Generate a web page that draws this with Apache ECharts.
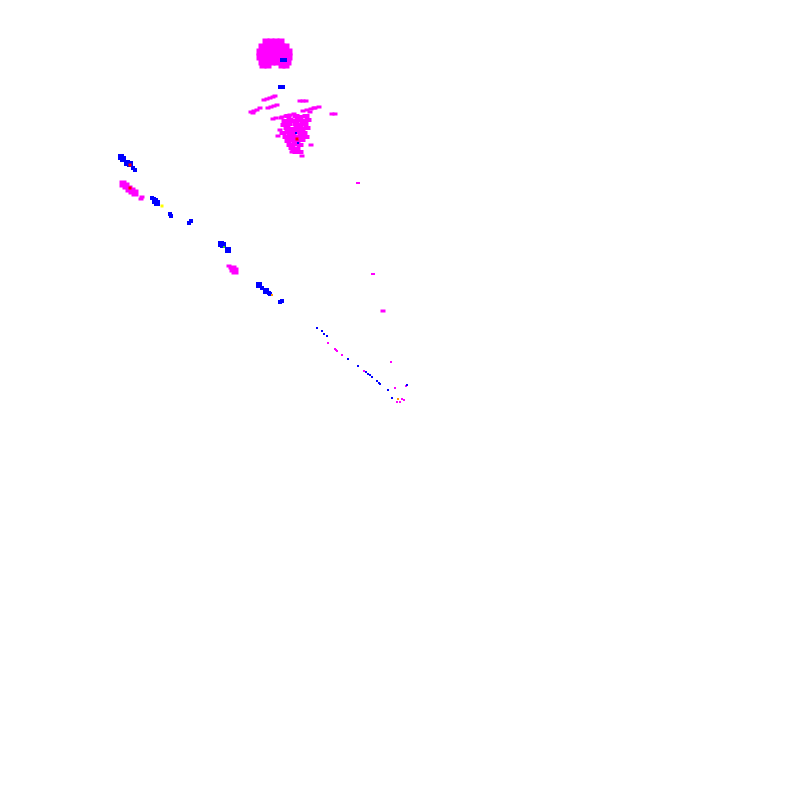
<!DOCTYPE html>
<html><head><meta charset="utf-8">
<script src="https://cdn.jsdelivr.net/npm/echarts@6/dist/echarts.min.js"></script>
<style>html,body{margin:0;padding:0;background:#fff}#c{width:800px;height:800px}</style>
</head><body><div id="c"></div>
<script>
// Point values (x, y in the chart's data units)
const magentaBlob = [
  [266,42],[271,42],[276,42],[281,42],
  [262,47],[267,47],[272,47],[277,47],[282,47],[286,47],
  [260,52],[265,52],[270,52],[275,52],[280,52],[285,52],[289,52],
  [260,57],[265,57],[270,57],[275,57],[280,57],[285,57],[289,57],
  [262,62],[267,62],[272,62],[277,62],[284,62],[288,62],
  [263,65],[268,65],[282,65],[286,65],
  [123,184],[126,186],[129,189],[132,191],[135,193],
  [233,269],[235,271]
];
const magentaCluster = [
  [288,116],[296,116],[300,117],[306,116],
  [285,121],[290,120],[294,121],[298,120],[303,121],[308,120],
  [284,125],[289,124],[296,124],[300,125],[305,124],
  [287,128],[292,129],[297,128],[302,129],[307,128],
  [283,133],[288,132],[293,133],[298,132],[304,133],
  [286,137],[290,136],[295,137],[301,136],[306,137],
  [288,141],[292,140],[297,141],[302,140],
  [290,145],[295,144],[300,145],
  [292,148],[297,149],[296,152],[300,152]
];
const magentaDash = [
  [264,100],[267,99],[270,98],[273,97],[275,96],
  [251,112],[254,111],[257,110],[260,108],[253,113],
  [268,108],[271,107],[274,106],[277,105],
  [300,101],[303,101],[306,101],
  [303,111],[307,110],[311,109],[315,108],[319,107],
  [332,114],[335,114],
  [273,119],[276,118],
  [282,117],[286,116],[290,115],[294,114],
  [281,118],[280,130],[278,136],[310,112],[314,108],[311,145],[302,156],[292,152],[293,150],
  [141,199],[142,197],[229,266],[231,268],[383,311]
];
const magentaDot = [
  [357,183],[359,183],[372,274],[374,274],
  [328,343],[335,349],[336,350],[337,351],[342,355],[364,371],[391,362],
  [395,388],[406,386],[402,399],[404,400],[400,402],[397,402]
];
const blueBig = [
  [121,157],[123,159],[127,163],[130,164],[155,201],[157,203],
  [221,244],[223,245],[228,250],[259,285],[266,291]
];
const blueSmall = [
  [133,168],[135,170],[152,198],[154,199],[170,214],[171,216],
  [189,223],[191,221],[262,288],[269,293],[270,294],[280,302],[282,301],
  [282,60],[285,60],[280,87],[283,87]
];
const blueDot = [
  [296,133],[298,143],
  [317,328],[322,331],[324,334],[327,336],[348,359],[358,366],
  [366,372],[368,374],[370,375],[372,377],[377,381],[379,383],[380,384],
  [388,390],[392,398],[407,385]
];
const redDot = [[130,165],[130,188],[297,139]];
const yellowDot = [[162,206]];
const greenDot = [[224,247]];
const orangeDot = [[398,399],[272,295]];

const chart = echarts.init(document.getElementById('c'));
function sc(name, data, color, size) {
  return {name, type:'scatter', data, symbol:'rect', symbolSize:size,
    itemStyle:{color, opacity:1}, silent:true};
}
chart.setOption({
  animation:false,
  grid:{left:0,right:0,top:0,bottom:0},
  xAxis:{type:'value',min:0,max:800,show:false},
  yAxis:{type:'value',min:0,max:800,inverse:true,show:false},
  series:[
    sc('magentaBlob', magentaBlob, '#ff00ff', 7),
    sc('magentaCluster', magentaCluster, '#ff00ff', [7,4]),
    sc('magentaDash', magentaDash, '#ff00ff', [5,3]),
    sc('magentaDot', magentaDot, '#ff00ff', 2),
    sc('blueBig', blueBig, '#0000ff', 6),
    sc('blueSmall', blueSmall, '#0000ff', 4),
    sc('blueDot', blueDot, '#0000ff', 2),
    sc('red', redDot, '#ff0000', 3),
    sc('yellow', yellowDot, '#ffff00', 3),
    sc('green', greenDot, '#33cc33', 2),
    sc('orange', orangeDot, '#ff9900', 2)
  ]
});
</script></body></html>
